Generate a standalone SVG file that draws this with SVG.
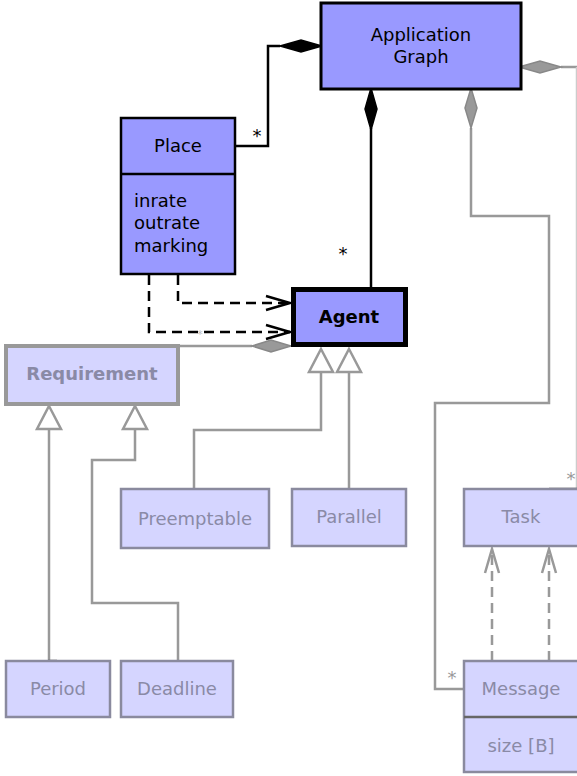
<svg xmlns="http://www.w3.org/2000/svg" width="577" height="776" viewBox="0 0 577 776">
<style>
text{font-family:"DejaVu Sans","Verdana",sans-serif;font-size:18px}
.c{text-anchor:middle}
.main{fill:#9999ff;stroke:#000;stroke-width:2.5}
.lite{fill:#d5d5ff;stroke:#8a8a9e;stroke-width:2.5}
.lt{fill:#8a8aa6}
.bk{fill:none;stroke:#000;stroke-width:2.5}
.bkd{fill:none;stroke:#000;stroke-width:2.5;stroke-dasharray:10 6}
.gr{fill:none;stroke:#999;stroke-width:2.5}
.grd{fill:none;stroke:#999;stroke-width:2.5;stroke-dasharray:10 6}
.star{font-size:18px}
</style>
<g id="connectors">
  <!-- Place to Application Graph composition -->
  <polyline class="bk" points="235,146 268,146 268,46 280,46"/>
  <polygon points="280,46 301,40 322,46 301,52" fill="#000" stroke="#000" stroke-width="1.5"/>
  <text class="star" x="257" y="142" text-anchor="middle">*</text>
  <!-- Agent to Application Graph composition -->
  <line class="bk" x1="371" y1="289" x2="371" y2="128"/>
  <polygon points="371,88 377,109 371,130 365,109" fill="#000" stroke="#000" stroke-width="1.5"/>
  <text class="star" x="343" y="260" text-anchor="middle">*</text>
  <!-- Application Graph to Task aggregation -->
  <polyline class="gr" points="561,67 577,67"/>
  <line x1="576.5" y1="67" x2="576.5" y2="489" stroke="#ccc" stroke-width="1.5"/>
  <polygon points="519,67 540,61 561,67 540,73" fill="#999" stroke="#888" stroke-width="1.5"/>
  <text class="star" x="571" y="485" text-anchor="middle" fill="#999">*</text>
  <line x1="549" y1="489" x2="577" y2="489" stroke="#555" stroke-width="2.5"/>
  <!-- Application Graph to Message aggregation -->
  <polyline class="gr" points="471,128 471,216 549,216 549,403 435,403 435,689 464,689"/>
  <polygon points="471,88 477,108 471,128 465,108" fill="#999" stroke="#888" stroke-width="1.5"/>
  <text class="star" x="452" y="684" text-anchor="middle" fill="#999">*</text>
  <!-- Requirement to Agent aggregation -->
  <line class="gr" x1="178" y1="346" x2="252" y2="346"/>
  <polygon points="252,346 271,340 291,346 271,352" fill="#999" stroke="#888" stroke-width="1.5"/>
  <text x="200" y="338" text-anchor="middle" fill="#bbb" style="font-size:11px">*</text>
  <!-- Place dependencies to Agent -->
  <polyline class="bkd" points="178,275 178,303 290,303"/>
  <polyline class="bk" points="266,296 290,303 266,310"/>
  <polyline class="bkd" points="149,275 149,332 290,332"/>
  <polyline class="bk" points="266,325 290,332 266,339"/>
  <!-- Generalizations to Agent -->
  <polyline class="gr" points="194,489 194,430 321,430 321,372"/>
  <polygon points="321,349 333,372 309,372" fill="#fff" stroke="#999" stroke-width="2.5"/>
  <line class="gr" x1="349" y1="489" x2="349" y2="372"/>
  <polygon points="349,349 361,372 337,372" fill="#fff" stroke="#999" stroke-width="2.5"/>
  <!-- Generalizations to Requirement -->
  <line class="gr" x1="49" y1="661" x2="49" y2="429"/>
  <polygon points="49,406 61,429 37,429" fill="#fff" stroke="#999" stroke-width="2.5"/>
  <line x1="48" y1="661" x2="57" y2="661" stroke="#555" stroke-width="2.5"/>
  <polyline class="gr" points="178,661 178,603 92,603 92,460 135,460 135,429"/>
  <polygon points="135,406 147,429 123,429" fill="#fff" stroke="#999" stroke-width="2.5"/>
  <!-- Message dependencies to Task -->
  <line class="grd" x1="492" y1="661" x2="492" y2="549"/>
  <polyline class="gr" points="485,573 492,549 499,573"/>
  <line class="grd" x1="549" y1="661" x2="549" y2="549"/>
  <polyline class="gr" points="542,573 549,549 556,573"/>
</g>
<g id="application-graph">
  <rect class="main" x="321" y="3" width="200" height="86" style="stroke-width:3"/>
  <text class="c" x="421" y="41">Application</text>
  <text class="c" x="421" y="63">Graph</text>
</g>
<g id="place">
  <rect class="main" x="121" y="118" width="114" height="156"/>
  <line x1="121" y1="174" x2="235" y2="174" stroke="#000" stroke-width="2.5"/>
  <text class="c" x="178" y="152">Place</text>
  <text x="134" y="207">inrate</text>
  <text x="134" y="229">outrate</text>
  <text x="134" y="252">marking</text>
</g>
<g id="agent">
  <rect class="main" x="293.5" y="289.5" width="112" height="55" style="stroke-width:5"/>
  <text class="c" x="349" y="323" font-weight="bold">Agent</text>
</g>
<g id="requirement">
  <rect class="lite" x="6" y="346" width="172" height="58" style="stroke:#999;stroke-width:4"/>
  <text class="c lt" x="92" y="380" font-weight="bold">Requirement</text>
</g>
<g id="preemptable">
  <rect class="lite" x="121" y="489" width="148" height="59"/>
  <text class="c lt" x="195" y="525">Preemptable</text>
</g>
<g id="parallel">
  <rect class="lite" x="292" y="489" width="114" height="57"/>
  <text class="c lt" x="349" y="523">Parallel</text>
</g>
<g id="task">
  <rect class="lite" x="464" y="489" width="116" height="57"/>
  <text class="c lt" x="521" y="523">Task</text>
</g>
<g id="period">
  <rect class="lite" x="6" y="661" width="104" height="56"/>
  <text class="c lt" x="58" y="695">Period</text>
</g>
<g id="deadline">
  <rect class="lite" x="121" y="661" width="112" height="56"/>
  <text class="c lt" x="177" y="695">Deadline</text>
</g>
<g id="message">
  <rect class="lite" x="464" y="661" width="116" height="111"/>
  <line x1="464" y1="717" x2="577" y2="717" stroke="#666" stroke-width="2.5"/>
  <text class="c lt" x="521" y="695">Message</text>
  <text class="c lt" x="521" y="752">size [B]</text>
</g>
</svg>
